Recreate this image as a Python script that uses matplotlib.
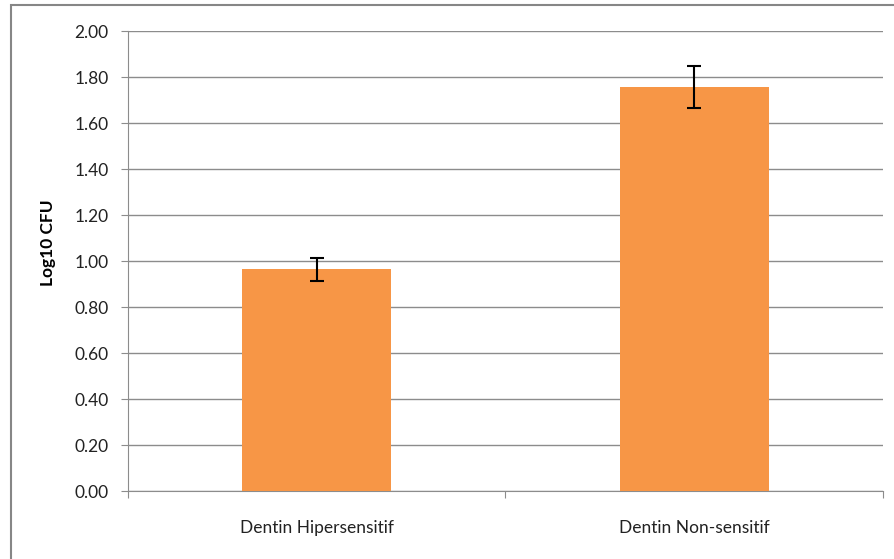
import matplotlib.pyplot as plt
from matplotlib.patches import Rectangle

categories = ["Dentin Hipersensitif", "Dentin Non-sensitif"]
log_cfu = [0.965, 1.757]
log_cfu_err = [0.05, 0.09]
y_ticks = [0.0, 0.2, 0.4, 0.6, 0.8, 1.0, 1.2, 1.4, 1.6, 1.8, 2.0]

plt.rcParams["font.family"] = ["Lato", "DejaVu Sans"]

fig = plt.figure(figsize=(8.95, 5.59), dpi=100)
ax = fig.add_axes([128 / 895, 1 - 491 / 559, 755 / 895, 460 / 559])

# outer chart frame
fig.patches.append(Rectangle((11 / 895, -0.01), 0.99, 1 - 5 / 559 + 0.01,
                             transform=fig.transFigure, fill=False,
                             edgecolor="#868686", linewidth=1.5))

x = range(len(categories))
ax.bar(x, log_cfu, width=0.395, color="#F79646", zorder=3)
ax.errorbar(x, log_cfu, yerr=log_cfu_err, fmt="none", ecolor="black",
            elinewidth=1.5, capsize=5, capthick=1.5, zorder=4)

ax.set_xlim(-0.5, 1.5)
ax.set_ylim(0, 2.0)
ax.set_yticks(y_ticks)
ax.set_yticklabels([f"{t:.2f}" for t in y_ticks], fontsize=12.5, color="#222222")
ax.yaxis.grid(True, color="#8c8c8c", linewidth=1.0, zorder=0)

ax.set_xticks([-0.5, 0.5, 1.5])
ax.set_xticklabels([])
ax.set_xticks(list(x), minor=True)
ax.set_xticklabels(categories, minor=True, fontsize=12.5, color="#222222")
ax.tick_params(axis="x", which="minor", length=0, pad=21)
ax.tick_params(axis="x", which="major", length=5, color="#8c8c8c", direction="out")
ax.tick_params(axis="y", length=5, color="#8c8c8c", pad=9)

for side in ["top", "right"]:
    ax.spines[side].set_visible(False)
for side in ["left", "bottom"]:
    ax.spines[side].set_color("#8c8c8c")

ax.set_ylabel("Log10 CFU", fontsize=12.5, fontweight="bold")
ax.yaxis.set_label_coords(-72 / 755, 0.54)

fig.savefig("out.png", dpi=100)
